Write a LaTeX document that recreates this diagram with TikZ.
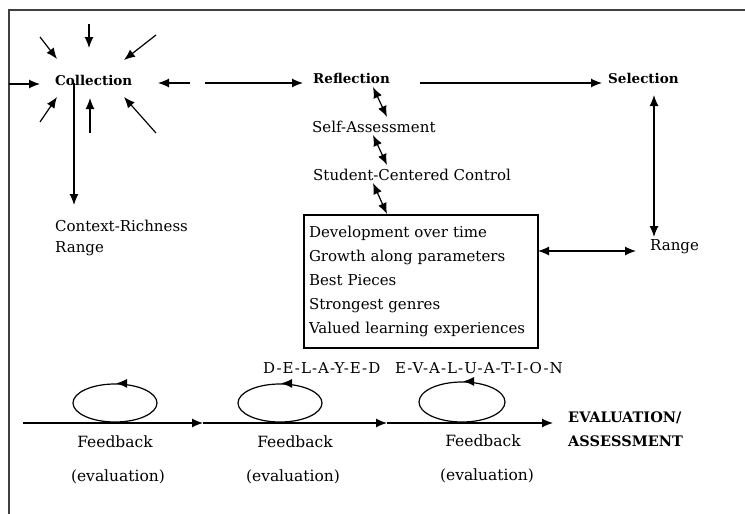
\documentclass[tikz,border=0pt]{standalone}
\usepackage{fontspec}
\setmainfont{DejaVu Serif}
\usetikzlibrary{arrows.meta,shapes.geometric}

\begin{document}
\begin{tikzpicture}[x=1pt, y=-1pt, >={Latex[length=11pt,width=9pt]},
    lbl/.style={anchor=west, inner sep=0pt, font=\fontsize{15}{24}\selectfont},
    hd/.style={lbl, font=\fontsize{13.5}{24}\selectfont\bfseries},
    loop/.style={ellipse, draw, line width=1.2pt, minimum width=84, minimum height=38, inner sep=0pt},
    fb/.style={inner sep=0pt, font=\fontsize{15.5}{24}\selectfont},
    spaced/.style={lbl, font=\fontsize{15}{24}\selectfont\addfontfeature{LetterSpace=7}}]
    \useasboundingbox (0,0) rectangle (745,514);
    \draw[line width=1.6pt, black!75] (9,514) -- (9,10) -- (745,10);

    % the stages
    \draw (55,80) node[hd](coll){Collection}
          (313,78) node[hd](refl){Reflection}
          (608,78) node[hd](sel){Selection}
          (55,226) node[lbl](ctx){Context-Richness}
          (55,249) node[lbl](rngL){Range}
          (312,127) node[lbl](self){Self-Assessment}
          (313,175) node[lbl](stud){Student-Centered Control}
          (650,247) node[lbl](rngR){Range};
    \node[draw, line width=1.2pt, minimum width=234, minimum height=133, text width=224,
          align=left, inner xsep=5pt, font=\fontsize{15}{24}\selectfont] (box) at (421,281.5)
          {Development over time\\Growth along parameters\\Best Pieces\\Strongest genres\\Valued learning experiences};

    % arrows pointing into Collection
    \coordinate (rayA) at (40,37);   \coordinate (hitA) at (57,59);
    \coordinate (rayB) at (89,24);   \coordinate (hitB) at (89,48);
    \coordinate (rayC) at (156,35);  \coordinate (hitC) at (124,60);
    \coordinate (rayD) at (9,84);    \coordinate (hitD) at (40,84);
    \coordinate (rayE) at (40,122);  \coordinate (hitE) at (57,97);
    \coordinate (rayF) at (90,133);  \coordinate (hitF) at (90,98);
    \coordinate (rayG) at (156,133); \coordinate (hitG) at (124,97);
    \draw[line width=1.2pt, ->] (rayA) -- (hitA);
    \draw[line width=1.2pt, ->] (rayB) -- (hitB);
    \draw[line width=1.2pt, ->] (rayC) -- (hitC);
    \draw[line width=1.2pt, ->] (rayD) -- (hitD);
    \draw[line width=1.2pt, ->] (rayE) -- (hitE);
    \draw[line width=1.2pt, ->] (rayF) -- (hitF);
    \draw[line width=1.2pt, ->] (rayG) -- (hitG);

    \coordinate (backS) at (190,83); \coordinate (backT) at (158,83);
    \coordinate (fwdS) at (205,83);  \coordinate (fwdT) at (303,83);
    \coordinate (downS) at (74,83);  \coordinate (downT) at (74,205);
    \coordinate (selS) at (420,83);  \coordinate (selT) at (602,83);
    \coordinate (upA) at (654,95);   \coordinate (upB) at (654,237);
    \coordinate (sideA) at (538,251); \coordinate (sideB) at (636,251);
    \draw[line width=1.2pt, ->] (backS) -- (backT);
    \draw[line width=1.2pt, ->] (fwdS) -- (fwdT);
    \draw[line width=1.2pt, ->] (downS) -- (downT);
    \draw[line width=1.2pt, ->] (selS) -- (selT);
    \draw[line width=1.2pt, <->] (upA) -- (upB);
    \draw[line width=1.2pt, <->] (sideA) -- (sideB);

    % small arrows down the reflection column
    \coordinate (zA) at (373,87);  \coordinate (zB) at (387,117);
    \coordinate (zC) at (373,135); \coordinate (zD) at (387,165);
    \coordinate (zE) at (373,183); \coordinate (zF) at (387,214);
    \draw[line width=1.2pt, <->] (zA) -- (zB);
    \draw[line width=1.2pt, <->] (zC) -- (zD);
    \draw[line width=1.2pt, <->] (zE) -- (zF);

    % feedback time line
    \coordinate (tl0) at (23,423);
    \coordinate (tl1) at (203,423);
    \coordinate (tl2) at (387,423);
    \coordinate (tl3) at (553,423);
    \draw[line width=1.2pt, ->] (tl0) -- (tl1);
    \draw[line width=1.2pt, ->] (tl1) -- (tl2);
    \draw[line width=1.2pt, ->] (tl2) -- (tl3);

    \node[loop] (loopA) at (115,403) {};
    \node[loop] (loopB) at (280,403) {};
    \node[loop, minimum width=86, minimum height=40] (loopC) at (462,402) {};
    \draw[line width=1.2pt, ->] ([xshift=7pt]loopA.north) -- ([xshift=1pt]loopA.north);
    \draw[line width=1.2pt, ->] ([xshift=7pt]loopB.north) -- ([xshift=1pt]loopB.north);
    \draw[line width=1.2pt, ->] ([xshift=7pt]loopC.north) -- ([xshift=1pt]loopC.north);

    \draw (115,442) node[fb](fbA){Feedback}
          (295,442) node[fb](fbB){Feedback}
          (483,441) node[fb](fbC){Feedback}
          (118,477) node[fb](evA){(evaluation)}
          (293,477) node[fb](evB){(evaluation)}
          (487,476) node[fb](evC){(evaluation)};
    \draw (263,368) node[spaced](dly){D-E-L-A-Y-E-D}
          (395,368) node[spaced](evl){E-V-A-L-U-A-T-I-O-N};
    \node[hd, align=left, font=\fontsize{14.5}{24}\selectfont\bfseries] (final) at (568,429) {EVALUATION/\\ASSESSMENT};
\end{tikzpicture}
\end{document}
